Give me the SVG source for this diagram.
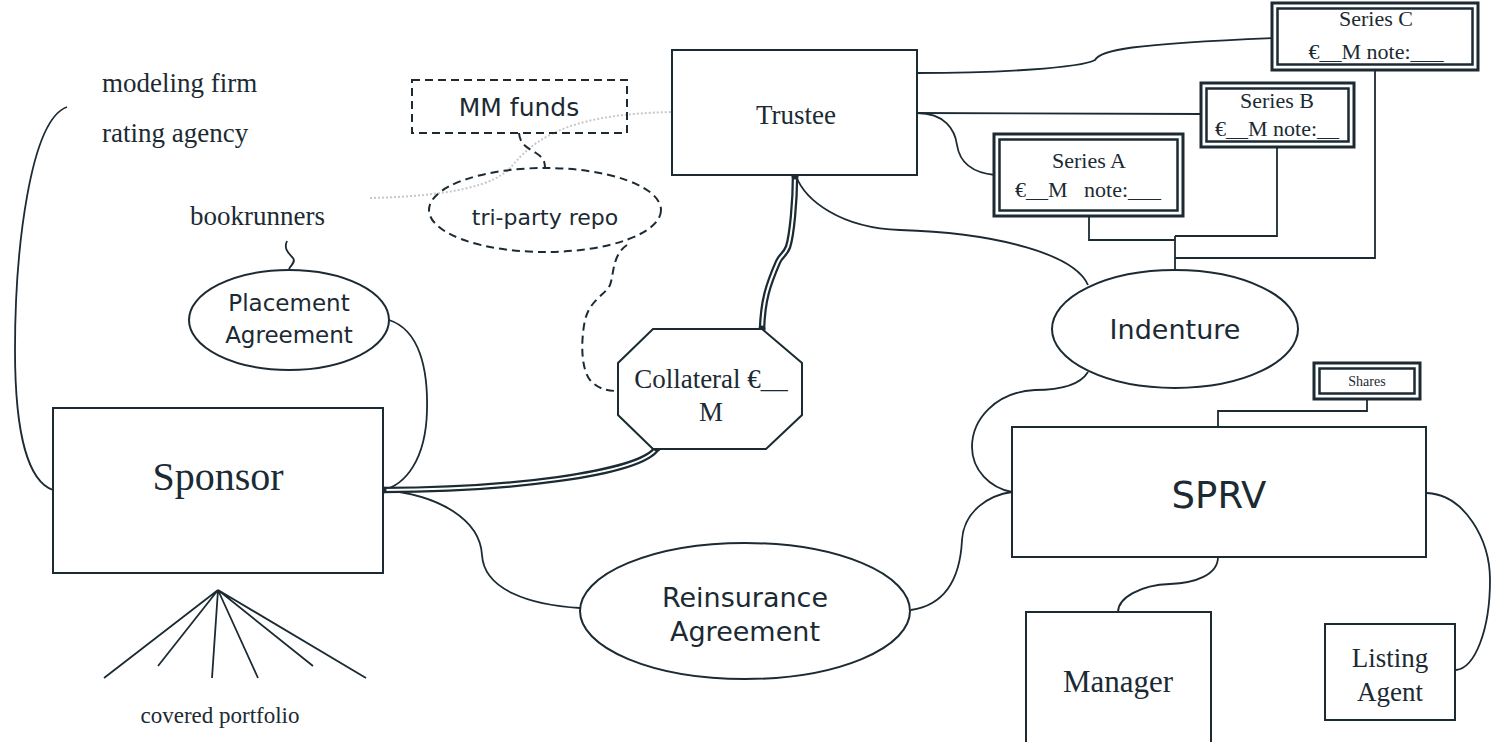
<svg xmlns="http://www.w3.org/2000/svg" width="1491" height="742" viewBox="0 0 1491 742">
<style>
.ln{fill:none;stroke:#1b2a33;stroke-width:1.8}
.box{fill:#fff;stroke:#1b2a33;stroke-width:2}
.dash{fill:none;stroke:#1b2a33;stroke-width:2;stroke-dasharray:8 5}
.dbl{fill:none;stroke:#1b2a33;stroke-width:6.5;stroke-linecap:round}
.dblw{fill:none;stroke:#fff;stroke-width:2;stroke-linecap:round}
.dot{fill:none;stroke:#c8c8c8;stroke-width:2;stroke-dasharray:2 2}
.o{fill:#fff;stroke:#1b2a33;stroke-width:3}
.i{fill:none;stroke:#1b2a33;stroke-width:2.5}
.serif{font-family:"Liberation Serif","Times New Roman",serif;fill:#1b2a33}
.sans{font-family:"DejaVu Sans","Liberation Sans",sans-serif;fill:#1b2a33}
.c{text-anchor:middle}
</style>
<rect width="1491" height="742" fill="#fff"/>
<g id="connectors">
  <path class="dot" d="M370,198 C450,196 495,186 512,166 C540,132 580,114 672,112"/>
  <path class="ln" d="M67,107 C30,120 15,250 15,350 C15,440 30,482 53,490"/>
  <path class="ln" d="M287,241 C283,250 290,254 293,258 C296,262 291,265 289,269"/>
  <path class="ln" d="M389,320 C420,330 428,370 427,410 C426,460 405,485 383,490"/>
  <path class="ln" d="M383,490 C440,495 480,520 482,555 C484,590 530,605 580,608"/>
  <path class="ln" d="M911,610 C945,605 960,580 962,540 C964,510 990,495 1012,492"/>
  <path class="ln" d="M796,176 C805,200 840,228 900,230 C1000,233 1075,255 1088,285"/>
  <path class="ln" d="M1088,372 C1080,385 1060,390 1035,390 C995,392 972,420 972,447 C972,470 990,488 1012,492"/>
  <path class="ln" d="M1218,557 C1218,575 1195,583 1170,584 C1140,585 1118,598 1118,612"/>
  <path class="ln" d="M1427,493 C1465,495 1490,540 1490,580 C1490,630 1475,668 1456,670"/>
  <path class="ln" d="M917,73 C1000,73 1080,68 1095,60 C1100,50 1130,44 1273,38"/>
  <path class="ln" d="M917,113 L1202,114"/>
  <path class="ln" d="M917,113 C945,113 955,130 957,145 C960,165 975,173 995,175"/>
  <path class="ln" d="M1089,216 V240 H1175 M1277,147 V236 H1175 M1375,70 V258 H1175 M1175,236 V270"/>
  <path class="ln" d="M1367,399 V411 H1218 V427"/>
  <path class="dash" d="M519,133 C520,145 528,148 536,153 C544,158 545,162 545,168"/>
  <path class="dash" d="M627,245 C612,255 614,275 610,285 C605,295 590,300 585,320 C580,345 582,370 590,380 C597,388 606,391 618,391"/>
  <path class="dbl" d="M795,176 C795,200 792,235 788,247 C785,255 781,255 778,262 C768,285 763,300 762,329"/>
  <path class="dblw" d="M795,176 C795,200 792,235 788,247 C785,255 781,255 778,262 C768,285 763,300 762,329"/>
  <path class="dbl" d="M383,490 C500,490 640,475 657,448"/>
  <path class="dblw" d="M383,490 C500,490 640,475 657,448"/>
  <circle cx="795" cy="176" r="3.5" fill="#1b2a33"/>
  <circle cx="762" cy="329" r="3.5" fill="#1b2a33"/>
  <circle cx="383" cy="490" r="3.5" fill="#1b2a33"/>
  <circle cx="657" cy="448" r="3.5" fill="#1b2a33"/>
  <path class="ln" d="M218,590 L104,678 M218,590 L158,666 M218,590 L212,678 M218,590 L258,678 M218,590 L313,666 M218,590 L366,678"/>
</g>
<g id="modeling-firm"><text class="serif" x="102" y="92" font-size="27">modeling firm</text></g>
<g id="rating-agency"><text class="serif" x="102" y="142" font-size="27">rating agency</text></g>
<g id="bookrunners"><text class="serif" x="190" y="225" font-size="27">bookrunners</text></g>
<g id="placement">
  <ellipse class="box" cx="289" cy="320" rx="100" ry="50"/>
  <text class="sans c" x="289" y="311" font-size="23">Placement</text>
  <text class="sans c" x="289" y="343" font-size="23">Agreement</text>
</g>
<g id="sponsor">
  <rect class="box" x="53" y="408" width="330" height="165"/>
  <text class="serif c" x="218" y="490" font-size="40">Sponsor</text>
</g>
<g id="mm-funds">
  <rect class="dash" x="412" y="80" width="215" height="53" fill="#fff"/>
  <text class="sans c" x="519" y="116" font-size="25">MM funds</text>
</g>
<g id="tri-party-repo">
  <ellipse class="dash" cx="545" cy="210" rx="116" ry="42"/>
  <text class="sans c" x="545" y="225" font-size="22">tri-party repo</text>
</g>
<g id="trustee">
  <rect class="box" x="672" y="50" width="245" height="125"/>
  <text class="serif c" x="796" y="124" font-size="27">Trustee</text>
</g>
<g id="collateral">
  <polygon class="box" points="653,329 762,329 802,363 802,415 766,449 653,449 618,415 618,363"/>
  <text class="serif c" x="711" y="388" font-size="27">Collateral €__</text>
  <text class="serif c" x="711" y="421" font-size="27">M</text>
</g>
<g id="series-c">
  <rect class="o" x="1272" y="3" width="206" height="67"/>
  <rect class="i" x="1277.5" y="8.5" width="195" height="56"/>
  <text class="serif c" x="1376" y="26" font-size="22">Series C</text>
  <text class="serif c" x="1376" y="59" font-size="22">€__M note:___</text>
</g>
<g id="series-b">
  <rect class="o" x="1201" y="83" width="153" height="64"/>
  <rect class="i" x="1206.5" y="88.5" width="142" height="53"/>
  <text class="serif c" x="1277" y="108" font-size="22">Series B</text>
  <text class="serif c" x="1277" y="136" font-size="22">€__M note:__</text>
</g>
<g id="series-a">
  <rect class="o" x="994" y="134" width="189" height="82"/>
  <rect class="i" x="999.5" y="139.5" width="178" height="71"/>
  <text class="serif c" x="1089" y="168" font-size="22">Series A</text>
  <text class="serif" x="1015" y="197" font-size="22" xml:space="preserve">€__M   note:___</text>
</g>
<g id="indenture">
  <ellipse class="box" cx="1175" cy="329" rx="123" ry="59"/>
  <text class="sans c" x="1175" y="339" font-size="27">Indenture</text>
</g>
<g id="shares">
  <rect class="o" x="1314" y="363" width="106" height="36"/>
  <rect class="i" x="1319.5" y="368.5" width="95" height="25"/>
  <text class="serif c" x="1367" y="386" font-size="14">Shares</text>
</g>
<g id="sprv">
  <rect class="box" x="1012" y="427" width="414" height="130"/>
  <text class="sans c" x="1219" y="508" font-size="37">SPRV</text>
</g>
<g id="reinsurance">
  <ellipse class="box" cx="745" cy="611" rx="165" ry="68"/>
  <text class="sans c" x="745" y="607" font-size="27">Reinsurance</text>
  <text class="sans c" x="745" y="641" font-size="27">Agreement</text>
</g>
<g id="manager">
  <rect class="box" x="1026" y="612" width="185" height="140"/>
  <text class="serif c" x="1118" y="692" font-size="31">Manager</text>
</g>
<g id="listing-agent">
  <rect class="box" x="1325" y="624" width="130" height="96"/>
  <text class="serif c" x="1390" y="667" font-size="27">Listing</text>
  <text class="serif c" x="1390" y="701" font-size="27">Agent</text>
</g>
<g id="covered-portfolio"><text class="serif c" x="220" y="723" font-size="23">covered portfolio</text></g>
</svg>
